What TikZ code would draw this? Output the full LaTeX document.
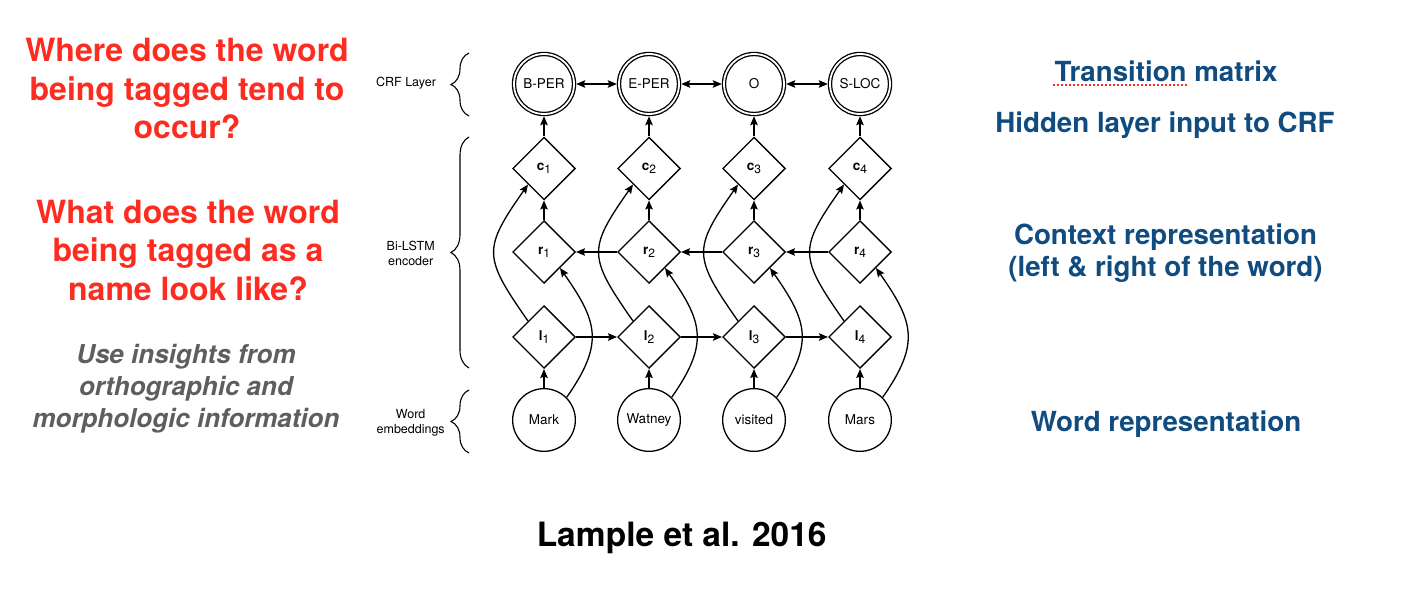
\documentclass[tikz,border=0pt]{standalone}
\usepackage{fontspec}
\setmainfont{TeX Gyre Heros}
\usetikzlibrary{shapes.geometric,arrows.meta,decorations.pathreplacing}
\definecolor{myred}{RGB}{252,45,32}
\definecolor{myblue}{RGB}{16,76,128}
\definecolor{mygray}{RGB}{94,94,94}
\newcommand{\idx}[1]{\raisebox{-3pt}{\fontsize{12}{12}\selectfont#1}}
\tikzset{>={Stealth[length=9pt,width=7.5pt,inset=1.5pt]}}
\tikzset{mycrf/.style={circle,draw,double,double distance=1.8pt,line width=1.3pt,minimum size=60pt,inner sep=0pt,outer sep=2.2pt,font=\fontsize{13.5}{16}\selectfont}}
\tikzset{mygate/.style={diamond,draw,line width=1.3pt,minimum size=62.7pt,inner sep=0pt,font=\fontsize{13.5}{16}\selectfont}}
\tikzset{myword/.style={circle,draw,line width=1.3pt,minimum size=62.7pt,inner sep=0pt,font=\fontsize{13.5}{16}\selectfont}}
\tikzset{myarrow/.style={->,line width=1.3pt}}
\tikzset{mybrace/.style={decorate,decoration={brace,amplitude=18pt},line width=1.1pt}}
\tikzset{mylabel/.style={align=center,anchor=base,font=\fontsize{12.5}{15}\selectfont}}
\tikzset{myquestion/.style={align=center,anchor=base,text=myred,font=\fontsize{32}{38.3}\selectfont\bfseries}}
\tikzset{myhint/.style={align=center,anchor=base,text=mygray,font=\fontsize{26}{32}\selectfont\bfseries\itshape}}
\tikzset{mynote/.style={align=center,anchor=base,text=myblue,font=\fontsize{27.7}{32}\selectfont\bfseries}}

\begin{document}
\begin{tikzpicture}[x=1pt,y=1pt]
	\useasboundingbox (0,0) rectangle (1408,-594);

	\node[mycrf] (crf1) at (544,-84) {B-PER};
	\node[mycrf] (crf2) at (649,-84) {E-PER};
	\node[mycrf] (crf3) at (754,-84) {O};
	\node[mycrf] (crf4) at (860,-84) {S-LOC};

	\node[mygate] (c1) at (544,-168.5) {\textbf{c}\idx{1}};
	\node[mygate] (c2) at (649,-168.5) {\textbf{c}\idx{2}};
	\node[mygate] (c3) at (754,-168.5) {\textbf{c}\idx{3}};
	\node[mygate] (c4) at (860,-168.5) {\textbf{c}\idx{4}};

	\node[mygate] (r1) at (544,-252) {\textbf{r}\idx{1}};
	\node[mygate] (r2) at (649,-252) {\textbf{r}\idx{2}};
	\node[mygate] (r3) at (754,-252) {\textbf{r}\idx{3}};
	\node[mygate] (r4) at (860,-252) {\textbf{r}\idx{4}};

	\node[mygate] (l1) at (544,-337) {\textbf{l}\idx{1}};
	\node[mygate] (l2) at (649,-337) {\textbf{l}\idx{2}};
	\node[mygate] (l3) at (754,-337) {\textbf{l}\idx{3}};
	\node[mygate] (l4) at (860,-337) {\textbf{l}\idx{4}};

	\node[myword] (w1) at (544,-420) {Mark};
	\node[myword] (w2) at (649,-420) {Watney};
	\node[myword] (w3) at (754,-420) {visited};
	\node[myword] (w4) at (860,-420) {Mars};

	\draw[myarrow,<->] (crf1) -- (crf2);
	\draw[myarrow,<->] (crf2) -- (crf3);
	\draw[myarrow,<->] (crf3) -- (crf4); % transitions

	\draw[myarrow] (c1) -- (crf1);
	\draw[myarrow] (c2) -- (crf2);
	\draw[myarrow] (c3) -- (crf3);
	\draw[myarrow] (c4) -- (crf4);

	\draw[myarrow] (r1) -- (c1);
	\draw[myarrow] (r2) -- (c2);
	\draw[myarrow] (r3) -- (c3);
	\draw[myarrow] (r4) -- (c4);

	\draw[myarrow] (w1) -- (l1);
	\draw[myarrow] (w2) -- (l2);
	\draw[myarrow] (w3) -- (l3);
	\draw[myarrow] (w4) -- (l4);

	\draw[myarrow] (l1) -- (l2);
	\draw[myarrow] (l2) -- (l3);
	\draw[myarrow] (l3) -- (l4);
	\draw[myarrow] (r4) -- (r3);
	\draw[myarrow] (r3) -- (r2);
	\draw[myarrow] (r2) -- (r1);

	\draw[myarrow] (l1.north west) to[out=125,in=235,looseness=1.48] (c1.south west);
	\draw[myarrow] (l2.north west) to[out=125,in=235,looseness=1.48] (c2.south west);
	\draw[myarrow] (l3.north west) to[out=125,in=235,looseness=1.48] (c3.south west);
	\draw[myarrow] (l4.north west) to[out=125,in=235,looseness=1.48] (c4.south west);

	\draw[myarrow] (w1.north east) to[out=55,in=-55,looseness=1.3] (r1.south east);
	\draw[myarrow] (w2.north east) to[out=55,in=-55,looseness=1.3] (r2.south east);
	\draw[myarrow] (w3.north east) to[out=55,in=-55,looseness=1.3] (r3.south east);
	\draw[myarrow] (w4.north east) to[out=55,in=-55,looseness=1.3] (r4.south east);

	\draw[mybrace] (469,-116) -- (469,-53);
	\draw[mybrace] (469,-368) -- (469,-137);
	\draw[mybrace] (469,-453) -- (469,-390);
	\node[mylabel] (crflabel) at (406,-86.7) {CRF Layer};
	\node[mylabel] (lstmlabel) at (410.7,-265) {Bi-LSTM\\encoder};
	\node[mylabel] (wordlabel) at (410.7,-433.3) {Word\\embeddings};

	\node[myquestion] (where) at (187,-138.3) {Where does the word\\being tagged tend to\\occur?};
	\node[myquestion] (what) at (188,-300) {What does the word\\being tagged as a\\name look like?};
	\node[myhint] (hint) at (186,-427.5) {Use insights from\\orthographic and\\morphologic information};

	\node[mynote] (trans) at (1166,-81.7) {Transition matrix};
	\draw[myred,line width=2pt,dash pattern=on 2pt off 2pt] (1053,-85) -- (1187,-85);
	\node[mynote] (hidden) at (1165,-132.7) {Hidden layer input to CRF};
	\node[mynote] (context) at (1165.5,-276.7) {Context representation\\(left \& right of the word)};
	\node[mynote] (wordrep) at (1166,-431.7) {Word representation};

	\node[anchor=base,font=\fontsize{33.5}{40}\selectfont\bfseries] (cite) at (681.7,-546.7) {Lample et al. 2016};
\end{tikzpicture}
\end{document}
